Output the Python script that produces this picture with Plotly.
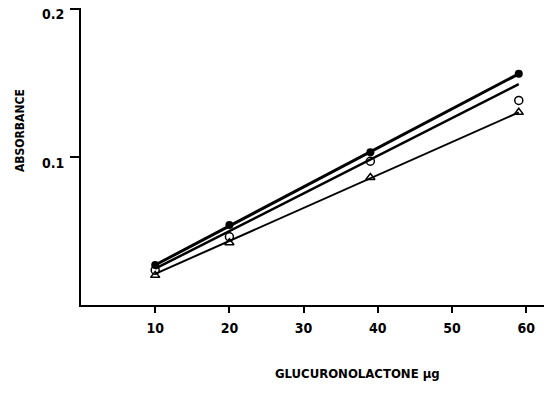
import plotly.graph_objects as go

# Data
x_vals = [10, 20, 39, 59]
filled_y = [0.027, 0.054, 0.103, 0.156]
open_y = [0.0235, 0.046, 0.097, 0.138]
tri_y = [0.020, 0.042, 0.086, 0.130]

# fitted lines (end points)
line_x = [10, 59]
filled_line = [0.027, 0.156]
open_line = [0.0245, 0.149]
tri_line = [0.021, 0.130]

x_ticks = [10, 20, 30, 40, 50, 60]
y_ticks = [0.1, 0.2]
y_tick_text = ["0.1", "0.2"]

FONT = "DejaVu Sans Condensed, Liberation Sans Narrow, DejaVu Sans, sans-serif"

fig = go.Figure()
fig.add_trace(go.Scatter(x=line_x, y=filled_line, mode="lines",
                         line=dict(color="black", width=3), showlegend=False))
fig.add_trace(go.Scatter(x=line_x, y=open_line, mode="lines",
                         line=dict(color="black", width=2.5), showlegend=False))
fig.add_trace(go.Scatter(x=line_x, y=tri_line, mode="lines",
                         line=dict(color="black", width=2), showlegend=False))
fig.add_trace(go.Scatter(x=x_vals, y=filled_y, mode="markers",
                         marker=dict(symbol="circle", size=8, color="black"),
                         showlegend=False))
fig.add_trace(go.Scatter(x=x_vals, y=open_y, mode="markers",
                         marker=dict(symbol="circle-open", size=8, color="black",
                                     line=dict(width=1.5)),
                         showlegend=False))
fig.add_trace(go.Scatter(x=x_vals, y=tri_y, mode="markers",
                         marker=dict(symbol="triangle-up-open", size=8, color="black",
                                     line=dict(width=1.5)),
                         showlegend=False))

fig.update_layout(
    width=544, height=396,
    margin=dict(l=81, r=0, t=8, b=91, autoexpand=False),
    paper_bgcolor="white", plot_bgcolor="white",
    font=dict(family=FONT, size=12, color="black", weight="bold"),
    xaxis=dict(range=[0, 62.4], tickvals=x_ticks, showgrid=False, zeroline=False,
               showline=True, linecolor="black", linewidth=2,
               ticks="outside", ticklen=6, tickwidth=2, tickcolor="black",
               ticklabelstandoff=3, automargin=False,
               tickfont=dict(family=FONT, size=14, color="black", weight="bold")),
    yaxis=dict(range=[0, 0.2004], tickvals=y_ticks, ticktext=y_tick_text,
               showgrid=False, zeroline=False,
               showline=True, linecolor="black", linewidth=2,
               ticks="outside", ticklen=9, tickwidth=2, tickcolor="black",
               ticklabelstandoff=3, ticklabeloverflow="allow", ticklabelshift=6,
               automargin=False,
               tickfont=dict(family=FONT, size=14, color="black", weight="bold")),
    annotations=[
        dict(text="ABSORBANCE", x=11, y=131, xref="paper", yref="paper",
             showarrow=False, textangle=-90,
             font=dict(family=FONT, size=12, color="black", weight="bold")),
        dict(text="GLUCURONOLACTONE µg", x=357, y=383, xref="paper", yref="paper",
             showarrow=False,
             font=dict(family=FONT, size=13, color="black", weight="bold")),
    ],
)

# convert pixel positions for annotations to paper coords
pw = 544 - 81
ph = 396 - 8 - 91
for ann in fig.layout.annotations:
    px, py = ann.x, ann.y
    ann.x = (px - 81) / pw
    ann.y = (396 - 91 - py) / ph

fig.write_html("out.html")
